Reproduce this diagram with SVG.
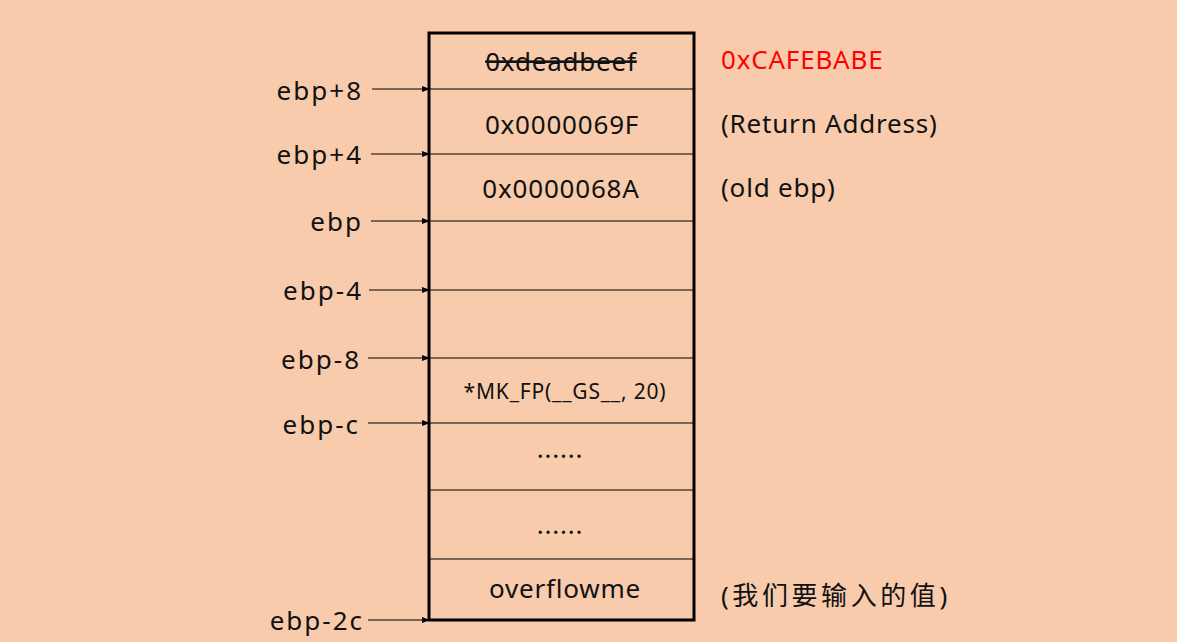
<svg xmlns="http://www.w3.org/2000/svg" width="1177" height="642" viewBox="0 0 1177 642">
<defs>
<marker id="ah" markerWidth="8" markerHeight="6" refX="8" refY="3" orient="auto" markerUnits="userSpaceOnUse"><path d="M0,0 L8,3 L0,6 z" fill="#000"/></marker>
<style>
text{font-family:"Noto Sans","Noto Sans CJK SC",sans-serif;fill:#111;font-size:26px;letter-spacing:0.8px}
.c{text-anchor:middle}
.l{text-anchor:end;letter-spacing:2px}
.sm{font-size:21px}
.row{stroke:#000;stroke-width:1.2}
.arr{stroke:#000;stroke-width:1.2;marker-end:url(#ah)}
</style>
</defs>
<rect width="1177" height="642" fill="#F8CBAD"/>
<g id="stack">
<rect x="429" y="33" width="265" height="587" fill="none" stroke="#000" stroke-width="3"/>
<line class="row" x1="429" y1="89" x2="694" y2="89"/>
<line class="row" x1="429" y1="154" x2="694" y2="154"/>
<line class="row" x1="429" y1="221" x2="694" y2="221"/>
<line class="row" x1="429" y1="290" x2="694" y2="290"/>
<line class="row" x1="429" y1="358" x2="694" y2="358"/>
<line class="row" x1="429" y1="423" x2="694" y2="423"/>
<line class="row" x1="429" y1="490" x2="694" y2="490"/>
<line class="row" x1="429" y1="559" x2="694" y2="559"/>
</g>
<g id="cells">
<text class="c" x="561" y="71" text-decoration="line-through">0xdeadbeef</text>
<text class="c" x="562" y="134">0x0000069F</text>
<text class="c" x="561" y="198">0x0000068A</text>
<text class="c sm" x="565" y="399">*MK_FP(__GS__, 20)</text>
<text class="c" x="560" y="458">......</text>
<text class="c" x="560" y="534">......</text>
<text class="c" x="565" y="598">overflowme</text>
</g>
<g id="labels">
<text class="l" x="363" y="100">ebp+8</text>
<text class="l" x="363" y="164">ebp+4</text>
<text class="l" x="363" y="231">ebp</text>
<text class="l" x="363" y="300">ebp-4</text>
<text class="l" x="361" y="369">ebp-8</text>
<text class="l" x="360" y="434">ebp-c</text>
<text class="l" x="364" y="630">ebp-2c</text>
</g>
<g id="notes">
<text x="721" y="69" style="fill:#FF0000">0xCAFEBABE</text>
<text x="721" y="133">(Return Address)</text>
<text x="721" y="197">(old ebp)</text>
<text x="721" y="605" textLength="227" lengthAdjust="spacing">(我们要输入的值)</text>
</g>
<g id="connectors">
<line class="arr" x1="372" y1="89" x2="430" y2="89"/>
<line class="arr" x1="371" y1="154" x2="430" y2="154"/>
<line class="arr" x1="371" y1="221" x2="430" y2="221"/>
<line class="arr" x1="369" y1="290" x2="430" y2="290"/>
<line class="arr" x1="368" y1="358" x2="430" y2="358"/>
<line class="arr" x1="368" y1="423" x2="430" y2="423"/>
<line class="arr" x1="368" y1="620" x2="430" y2="620"/>
</g>
</svg>
